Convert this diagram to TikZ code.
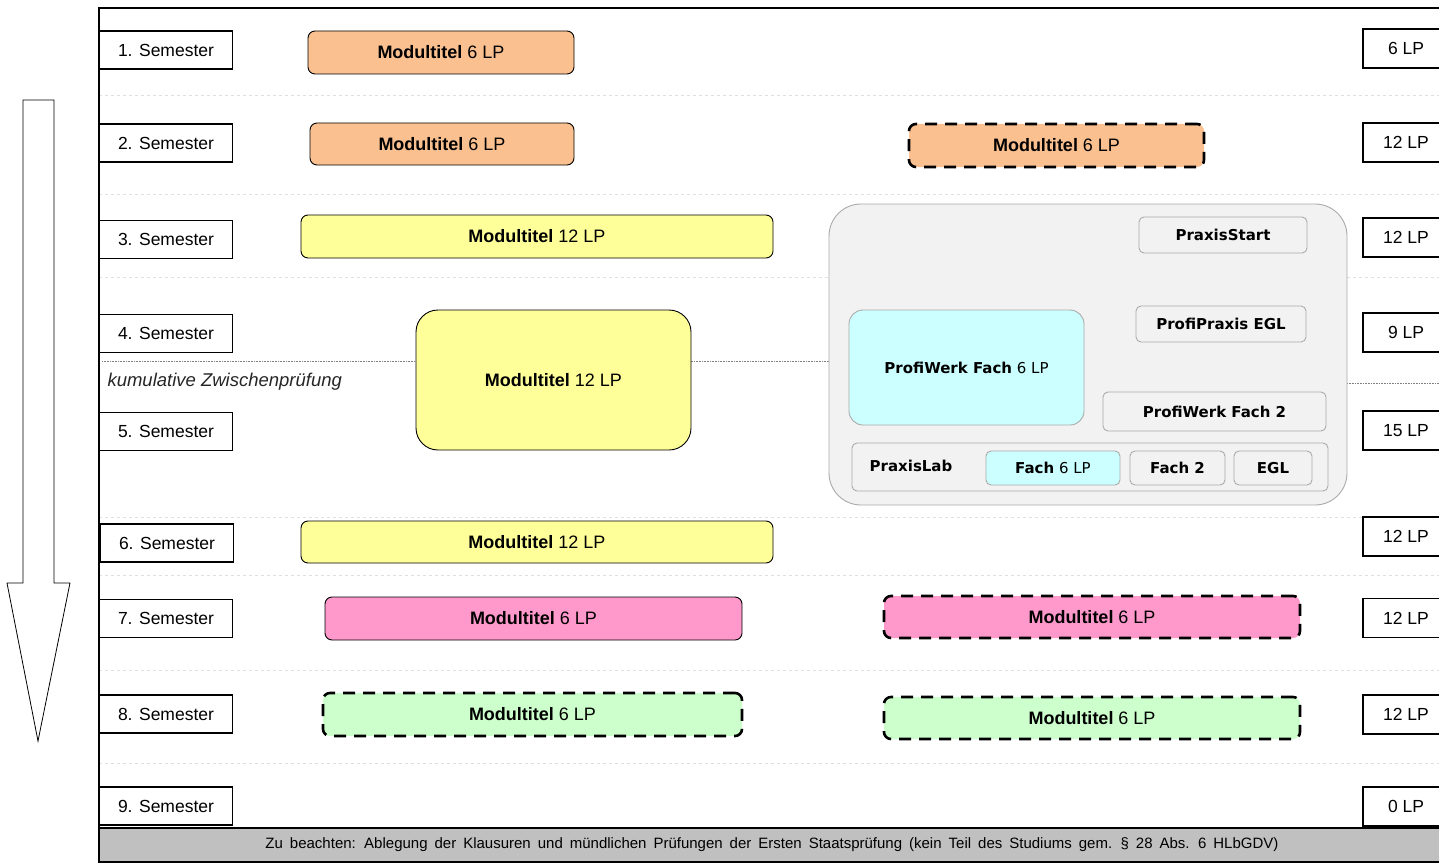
\documentclass[tikz,border=0pt]{standalone}
\usepackage{fontspec}
\setmainfont{Liberation Sans}
\newfontfamily\praxisfont{DejaVu Sans}
\usepackage{tikz}
\usetikzlibrary{positioning}
\definecolor{orangemod}{RGB}{250,192,144}
\definecolor{gelbmod}{RGB}{255,255,153}
\definecolor{rosamod}{RGB}{255,153,204}
\definecolor{gruenmod}{RGB}{204,255,204}
\definecolor{tuerkismod}{RGB}{204,255,255}
\definecolor{praxisgrau}{RGB}{242,242,242}
\definecolor{praxisrand}{RGB}{170,170,170}
\definecolor{fussgrau}{RGB}{192,192,192}

\begin{document}
\begin{tikzpicture}[x=1pt,y=-1pt,
  sem/.style={draw, line width=1.3pt, fill=white, minimum width=133pt, minimum height=38pt, inner sep=0pt, font=\fontsize{17.5}{17.5}\selectfont},
  lp/.style={draw, line width=1.3pt, fill=white, minimum width=86pt, minimum height=39pt, inner sep=0pt, font=\fontsize{17.5}{17.5}\selectfont},
  modul/.style={draw, line width=0.9pt, rounded corners=7pt, inner sep=0pt, font=\fontsize{18}{18}\selectfont},
  wahl/.style={modul, line width=2.6pt, dash pattern=on 12pt off 8pt},
  pbox/.style={draw=praxisrand, line width=0.9pt, fill=praxisgrau, rounded corners=5pt, inner sep=0pt, font=\praxisfont\fontsize{15}{15}\selectfont},
  trenner/.style={gray!25, line width=0.8pt, dashed},
  zplinie/.style={gray, line width=0.6pt, densely dotted}
]
\useasboundingbox (0,0) rectangle (1439,864);

\foreach \y in {95,194,277,517,575,670,763}
  \draw[trenner] (99,\y) -- (1439,\y);
\draw[zplinie] (102,361) -- (830,361);
\draw[zplinie] (1347,383) -- (1439,383);

\draw[thick, fill=white] (23,100) -- (54,100) -- (54,583) -- (70,583) -- (38,741) -- (7,583) -- (23,583) -- cycle;
\draw[line width=1.3pt] (1445,8) -- (99,8) -- (99,828);

\node[sem] (s1) at (166,50) {1. Semester};
\node[sem] (s2) at (166,143) {2. Semester};
\node[sem] (s3) at (166,239.5) {3. Semester};
\node[sem] (s4) at (166,333.5) {4. Semester};
\node[sem] (s5) at (166,431.5) {5. Semester};
\node[sem] (s6) at (167,543) {6. Semester};
\node[sem] (s7) at (166,618.5) {7. Semester};
\node[sem] (s8) at (166,714) {8. Semester};
\node[sem] (s9) at (166,806) {9. Semester};

\node[lp] (lp1) at (1406,48.5) {6 LP};
\node[lp] (lp2) at (1406,142.5) {12 LP};
\node[lp] (lp3) at (1406,237.5) {12 LP};
\node[lp] (lp4) at (1406,332.5) {9 LP};
\node[lp] (lp5) at (1406,430.5) {15 LP};
\node[lp] (lp6) at (1406,536.5) {12 LP};
\node[lp] (lp7) at (1406,618) {12 LP};
\node[lp] (lp8) at (1406,714.5) {12 LP};
\node[lp] (lp9) at (1406,806.5) {0 LP};

\node[anchor=west, font=\itshape\fontsize{18.5}{18.5}\selectfont, text=black!85] (zp) at (104,382) {kumulative Zwischenprüfung};

\node[modul, fill=orangemod, minimum width=266pt, minimum height=43pt] (m1) at (441,52.5) {\textbf{Modultitel} 6 LP};
\node[modul, fill=orangemod, minimum width=264pt, minimum height=42pt] (m2) at (442,144) {\textbf{Modultitel} 6 LP};
\node[wahl, fill=orangemod, minimum width=295pt, minimum height=43pt] (m2w) at (1056.5,145.5) {\textbf{Modultitel} 6 LP};
\node[modul, fill=gelbmod, minimum width=472pt, minimum height=43pt] (m3) at (537,236.5) {\textbf{Modultitel} 12 LP};
\node[modul, fill=gelbmod, rounded corners=22pt, minimum width=275pt, minimum height=140pt] (m45) at (553.5,380) {\textbf{Modultitel} 12 LP};
\node[modul, fill=gelbmod, minimum width=472pt, minimum height=42pt] (m6) at (537,542) {\textbf{Modultitel} 12 LP};
\node[modul, fill=rosamod, minimum width=417pt, minimum height=43pt] (m7) at (533.5,618.5) {\textbf{Modultitel} 6 LP};
\node[wahl, fill=rosamod, minimum width=416pt, minimum height=42pt] (m7w) at (1092,617) {\textbf{Modultitel} 6 LP};
\node[wahl, fill=gruenmod, minimum width=419pt, minimum height=43pt] (m8) at (532.5,714.5) {\textbf{Modultitel} 6 LP};
\node[wahl, fill=gruenmod, minimum width=416pt, minimum height=42pt] (m8w) at (1092,718) {\textbf{Modultitel} 6 LP};

\node[draw=praxisrand, line width=0.9pt, fill=praxisgrau, rounded corners=32pt, minimum width=518pt, minimum height=301pt] (praxis) at (1088,354.5) {};
\node[pbox, minimum width=168pt, minimum height=36pt] (start) at (1223,235) {\textbf{PraxisStart}};
\node[pbox, minimum width=170pt, minimum height=36pt] (profipraxis) at (1221,324) {\textbf{ProfiPraxis EGL}};
\node[pbox, fill=tuerkismod, rounded corners=14pt, minimum width=235pt, minimum height=115pt] (profiwerk) at (966.5,367.5) {\textbf{ProfiWerk Fach} 6 LP};
\node[pbox, minimum width=223pt, minimum height=39pt] (profiwerk2) at (1214.5,411.5) {\textbf{ProfiWerk Fach 2}};
\node[pbox, minimum width=476pt, minimum height=48pt] (lab) at (1090,467) {};
\node[font=\praxisfont\bfseries\fontsize{15}{15}\selectfont] (labtitel) at (911,466) {PraxisLab};
\node[pbox, fill=tuerkismod, minimum width=134pt, minimum height=34pt] (lab1) at (1053,468) {\textbf{Fach} 6 LP};
\node[pbox, minimum width=95pt, minimum height=34pt] (lab2) at (1177.5,468) {\textbf{Fach 2}};
\node[pbox, minimum width=78pt, minimum height=34pt] (lab3) at (1273,468) {\textbf{EGL}};

\node[draw, line width=1.3pt, fill=fussgrau, minimum width=1346pt, minimum height=34pt, inner sep=0pt, font=\fontsize{15}{15}\selectfont] (hinweis) at (772,845) {\spaceskip=7pt Zu beachten: Ablegung der Klausuren und mündlichen Prüfungen der Ersten Staatsprüfung (kein Teil des Studiums gem. § 28 Abs. 6 HLbGDV)};
\end{tikzpicture}
\end{document}
